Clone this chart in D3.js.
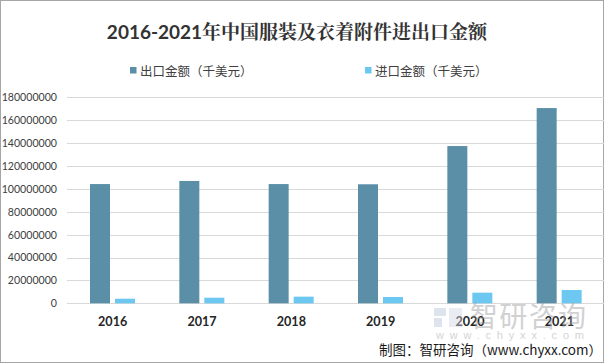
<!DOCTYPE html>
<html><head><meta charset="utf-8">
<script src="https://cdn.jsdelivr.net/npm/d3@7"></script>
<style>body{margin:0;background:#fff}svg{display:block}</style>
</head><body><svg id="c" width="605" height="364"></svg>
<script>
const years = ["2016","2017","2018","2019","2020","2021"];
const seriesNames = ["出口金额（千美元）","进口金额（千美元）"];
const exportValues = [104200000, 106900000, 104200000, 104000000, 137400000, 170600000];
const importValues = [4000000, 4900000, 5800000, 5500000, 9300000, 11600000];
const yTicks = [0,20000000,40000000,60000000,80000000,100000000,120000000,140000000,160000000,180000000];
const colors = ["#5b8fa8","#6cc8f0"];

const svg = d3.select("#c");
svg.append("rect").attr("x",0.5).attr("y",0.5).attr("width",603).attr("height",362)
  .attr("fill","#fff").attr("stroke","#a6a6a6");

const x0 = d3.scaleBand().domain(years).range([68,604]);
const x1 = d3.scaleBand().domain([0,1]).range([22,67]).paddingInner(0.2);
const y = d3.scaleLinear().domain([0,180000000]).range([303.3,97.3]);

// gridlines
svg.append("g").selectAll("line").data(yTicks).join("line")
  .attr("x1",67).attr("x2",604)
  .attr("y1",d=>Math.round(y(d))+0.5).attr("y2",d=>Math.round(y(d))+0.5)
  .attr("stroke","#d9d9d9").attr("stroke-width",1);

// y axis labels
const yAxis = d3.axisLeft(y).tickValues(yTicks).tickFormat(d3.format("d")).tickSize(0).tickPadding(0);
const ga = svg.append("g").attr("transform","translate(57,0)").call(yAxis);
ga.select(".domain").remove();
ga.selectAll("text").attr("font-family","Lato, 'Liberation Sans', sans-serif")
  .attr("font-size","10.6px").attr("fill","#404040");

// bars
const data = years.map((yr,i)=>({yr, vals:[exportValues[i], importValues[i]]}));
const groups = svg.append("g").selectAll("g").data(data).join("g")
  .attr("transform",d=>`translate(${x0(d.yr)},0)`);
groups.selectAll("rect").data(d=>d.vals.map((v,k)=>({v,k}))).join("rect")
  .attr("x",d=>x1(d.k)).attr("width",x1.bandwidth())
  .attr("y",d=>y(d.v)).attr("height",d=>y(0)-y(d.v))
  .attr("fill",d=>colors[d.k]);

// x axis labels
const xAxis = d3.axisBottom(x0).tickSize(0).tickPadding(0);
const gx = svg.append("g").attr("transform","translate(0,326)").call(xAxis);
gx.select(".domain").remove();
gx.selectAll("text").attr("dy",0).attr("font-family","Lato, 'Liberation Sans', sans-serif")
  .attr("font-weight","bold").attr("font-size","12.6px").attr("fill","#262626");

// watermark
const wm = svg.append("g").attr("opacity",0.45);
wm.append("rect").attr("x",434).attr("y",308).attr("width",12).attr("height",8).attr("fill","#b8c4d8");
wm.append("rect").attr("x",434).attr("y",318).attr("width",8).attr("height",9).attr("fill","#b8c4d8");
wm.append("rect").attr("x",449).attr("y",308).attr("width",13).attr("height",19).attr("fill","#cfd8e6");
wm.append("text").attr("x",470).attr("y",327).attr("font-family","'Noto Sans CJK SC', sans-serif")
  .attr("font-size","28px").attr("fill","#9a9a9a").attr("textLength",116).text("智研咨询");
wm.append("text").attr("x",436).attr("y",339).attr("font-family","'Liberation Sans', sans-serif")
  .attr("font-size","11px").attr("fill","#a0a0a0").attr("textLength",148).text("www.chyxx.com");

// title
const t = svg.append("text").attr("x",297).attr("y",39).attr("text-anchor","middle")
  .attr("font-weight","bold").attr("font-size","19px").attr("fill","#333333");
t.append("tspan").attr("font-family","Lato, 'Liberation Sans', sans-serif").text("2016-2021");
t.append("tspan").attr("font-family","'Noto Serif CJK SC','Noto Sans CJK SC', serif").text("年中国服装及衣着附件进出口金额");

// legend
const legX = [130, 365];
const lg = svg.append("g").selectAll("g").data(seriesNames).join("g")
  .attr("transform",(d,i)=>`translate(${legX[i]},0)`);
lg.append("rect").attr("x",0).attr("y",67).attr("width",6.5).attr("height",6.5).attr("fill",(d,i)=>colors[i]);
lg.append("text").attr("x",10).attr("y",75.5).attr("font-family","'Noto Sans CJK SC', sans-serif")
  .attr("font-size","12.5px").attr("fill","#404040").text(d=>d);

// source
svg.append("text").attr("x",602).attr("y",355).attr("text-anchor","end")
  .attr("font-family","'Noto Sans CJK SC', sans-serif").attr("font-size","13.5px").attr("fill","#1a1a1a")
  .text("制图：智研咨询（www.chyxx.com）");
</script></body></html>
